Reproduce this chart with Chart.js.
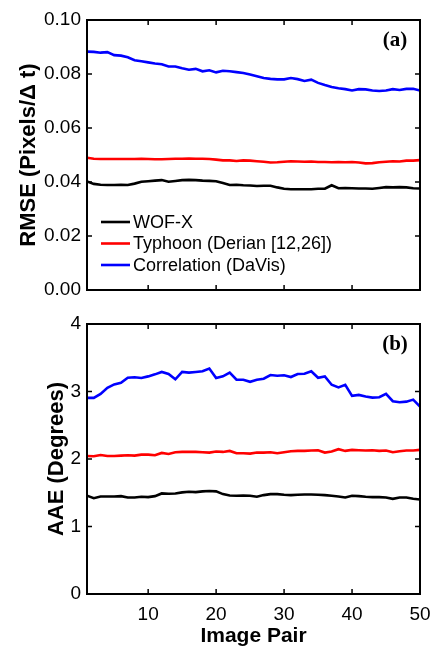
<!DOCTYPE html>
<html>
<head>
<meta charset="utf-8">
<script src="https://cdn.jsdelivr.net/npm/chart.js@4.4.0/dist/chart.umd.min.js"></script>
<style>
  body { margin: 0; background: #fff; }
  #wrap { position: relative; width: 433px; height: 649px; }
  #top { position: absolute; left: 0; top: 0; }
  #bottom { position: absolute; left: 0; top: 300px; }
</style>
</head>
<body>
<div id="wrap">
  <canvas id="top" width="433" height="300"></canvas>
  <canvas id="bottom" width="433" height="349"></canvas>
</div>
<script>
const imagePair = [1,2,3,4,5,6,7,8,9,10,11,12,13,14,15,16,17,18,19,20,21,22,23,24,25,
  26,27,28,29,30,31,32,33,34,35,36,37,38,39,40,41,42,43,44,45,46,47,48,49,50]
const xTicks = [10, 20, 30, 40, 50]
const seriesNames = ['WOF-X', 'Typhoon (Derian [12,26])', 'Correlation (DaVis)']

// panel (a) RMSE
const rmseWof = [0.0402,0.0393,0.0390,0.0389,0.0389,0.0390,0.0389,0.0394,0.0401,0.0403,
  0.0405,0.0407,0.0401,0.0404,0.0407,0.0408,0.0407,0.0405,0.0404,0.0403,
  0.0396,0.0389,0.0390,0.0388,0.0387,0.0385,0.0386,0.0386,0.0380,0.0375,
  0.0373,0.0373,0.0373,0.0373,0.0375,0.0375,0.0388,0.0377,0.0378,0.0377,
  0.0376,0.0376,0.0375,0.0378,0.0381,0.0380,0.0381,0.0380,0.0377,0.0376]
const rmseTyphoon = [0.0490,0.0486,0.0485,0.0485,0.0485,0.0485,0.0485,0.0485,0.0486,0.0485,
  0.0484,0.0484,0.0485,0.0486,0.0486,0.0487,0.0486,0.0486,0.0485,0.0483,
  0.0480,0.0480,0.0478,0.0480,0.0479,0.0477,0.0475,0.0472,0.0473,0.0475,
  0.0477,0.0476,0.0475,0.0476,0.0474,0.0474,0.0473,0.0474,0.0473,0.0474,
  0.0472,0.0469,0.0470,0.0473,0.0475,0.0477,0.0476,0.0479,0.0479,0.0481]
const rmseDavis = [0.0883,0.0882,0.0879,0.0881,0.0870,0.0868,0.0862,0.0851,0.0847,0.0843,
  0.0839,0.0836,0.0828,0.0828,0.0821,0.0816,0.0819,0.0810,0.0814,0.0806,
  0.0812,0.0810,0.0807,0.0804,0.0798,0.0792,0.0785,0.0782,0.0780,0.0780,
  0.0785,0.0781,0.0774,0.0779,0.0767,0.0759,0.0752,0.0747,0.0744,0.0739,
  0.0744,0.0743,0.0739,0.0737,0.0739,0.0744,0.0741,0.0745,0.0745,0.0739]
const rmseTicks = [0, 0.02, 0.04, 0.06, 0.08, 0.10]

// panel (b) AAE
const aaeWof = [1.456,1.42,1.445,1.445,1.445,1.45,1.43,1.43,1.44,1.435,
  1.45,1.49,1.485,1.49,1.505,1.515,1.51,1.52,1.525,1.52,
  1.48,1.46,1.455,1.46,1.455,1.44,1.465,1.48,1.48,1.47,
  1.465,1.47,1.475,1.475,1.47,1.465,1.455,1.445,1.43,1.455,
  1.45,1.44,1.435,1.435,1.43,1.41,1.43,1.43,1.41,1.40]
const aaeTyphoon = [2.045,2.04,2.06,2.045,2.045,2.05,2.055,2.05,2.065,2.065,
  2.055,2.09,2.075,2.10,2.105,2.105,2.105,2.10,2.095,2.11,
  2.105,2.12,2.085,2.085,2.08,2.095,2.095,2.10,2.085,2.10,
  2.115,2.12,2.12,2.125,2.13,2.095,2.11,2.145,2.12,2.135,
  2.13,2.125,2.13,2.12,2.125,2.10,2.115,2.125,2.125,2.135]
const aaeDavis = [2.905,2.905,2.965,3.055,3.105,3.13,3.204,3.21,3.20,3.224,
  3.254,3.29,3.26,3.18,3.29,3.28,3.29,3.30,3.34,3.20,
  3.224,3.28,3.174,3.174,3.144,3.174,3.19,3.244,3.234,3.24,
  3.214,3.26,3.264,3.30,3.204,3.224,3.10,3.06,3.10,2.935,
  2.95,2.925,2.91,2.915,2.965,2.856,2.84,2.85,2.88,2.776]
const aaeTicks = [0, 1, 2, 3, 4]

const colors = ['#000000', '#ff0000', '#0000ff']
const sans = "'Liberation Sans', Arial, sans-serif"

const toPoints = (vals) => imagePair.map((p, i) => ({ x: p, y: vals[i] }))

const makeSets = (lists) => lists.map((vals, i) => ({
  label: seriesNames[i],
  data: toPoints(vals),
  borderColor: colors[i],
  borderWidth: 2.6,
  pointRadius: 0,
  tension: 0,
  fill: false
}))

// label overhang would otherwise shrink the plot area
const noPad = (scale) => {
  scale.paddingLeft = 0
  scale.paddingRight = 0
  scale.paddingTop = 0
  scale.paddingBottom = 0
}

// frame with inward ticks on all four sides
const framePlugin = {
  id: 'frame',
  afterDatasetsDraw(chart, args, opts) {
    const { ctx, chartArea: a, scales } = chart
    ctx.save()
    ctx.strokeStyle = '#000'
    ctx.lineWidth = 2
    ctx.strokeRect(a.left, a.top, a.right - a.left, a.bottom - a.top)
    ctx.lineWidth = 1.5
    ctx.beginPath()
    xTicks.forEach(v => {
      const x = scales.x.getPixelForValue(v)
      ctx.moveTo(x, a.bottom); ctx.lineTo(x, a.bottom - 5)
      ctx.moveTo(x, a.top); ctx.lineTo(x, a.top + 5)
    })
    opts.yTicks.forEach(v => {
      const y = scales.y.getPixelForValue(v)
      ctx.moveTo(a.left, y); ctx.lineTo(a.left + 5, y)
      ctx.moveTo(a.right, y); ctx.lineTo(a.right - 5, y)
    })
    ctx.stroke()
    // panel letter
    ctx.fillStyle = '#000'
    ctx.font = "bold 21px 'Liberation Serif', 'Times New Roman', serif"
    ctx.textAlign = 'center'
    ctx.textBaseline = 'middle'
    ctx.fillText(opts.letter, a.right - 25, a.top + 21)
    // legend
    if (opts.legend) {
      ctx.font = '18px ' + sans
      ctx.textAlign = 'left'
      ctx.lineWidth = 2.6
      chart.data.datasets.forEach((ds, i) => {
        const y = a.top + 202 + i * 21.5
        ctx.strokeStyle = ds.borderColor
        ctx.beginPath()
        ctx.moveTo(a.left + 14, y); ctx.lineTo(a.left + 43, y)
        ctx.stroke()
        ctx.fillText(ds.label, a.left + 46, y + 1)
      })
    }
    ctx.restore()
  }
}

const makeOptions = (cfg) => ({
  responsive: false,
  animation: false,
  layout: { padding: cfg.padding },
  plugins: {
    legend: { display: false },
    tooltip: { enabled: false },
    frame: { yTicks: cfg.yTicks, letter: cfg.letter, legend: cfg.legend }
  },
  scales: {
    x: {
      type: 'linear',
      min: 1,
      max: 50,
      grid: { display: false, drawTicks: false },
      border: { display: false },
      afterBuildTicks: (scale) => { scale.ticks = xTicks.map(v => ({ value: v })) },
      afterFit: (scale) => { scale.height = cfg.xHeight; noPad(scale) },
      ticks: {
        display: cfg.showX,
        padding: 9,
        color: '#000',
        font: { family: sans, size: 19 }
      },
      title: {
        display: cfg.showX,
        text: 'Image Pair',
        color: '#000',
        padding: { top: 0, bottom: 0 },
        font: { family: sans, size: 21, weight: 'bold' }
      }
    },
    y: {
      min: cfg.yTicks[0],
      max: cfg.yTicks[cfg.yTicks.length - 1],
      grid: { display: false, drawTicks: false },
      border: { display: false },
      afterBuildTicks: (scale) => { scale.ticks = cfg.yTicks.map(v => ({ value: v })) },
      afterFit: (scale) => { scale.width = 87; noPad(scale) },
      ticks: {
        padding: 6,
        color: '#000',
        font: { family: sans, size: 19 },
        callback: cfg.tickFmt
      },
      title: {
        display: true,
        text: cfg.yTitle,
        color: '#000',
        padding: { top: cfg.titlePad, bottom: 0 },
        font: { family: sans, size: 22, weight: 'bold' }
      }
    }
  }
})

new Chart(document.getElementById('top'), {
  type: 'line',
  data: { datasets: makeSets([rmseWof, rmseTyphoon, rmseDavis]) },
  options: makeOptions({
    padding: { top: 20, right: 13, bottom: 10, left: 0 },
    yTicks: rmseTicks,
    yTitle: 'RMSE (Pixels/\u0394 t)',
    titlePad: 16,
    tickFmt: (v) => Number(v).toFixed(2),
    letter: '(a)',
    legend: true,
    showX: false,
    xHeight: 0
  }),
  plugins: [framePlugin]
})

new Chart(document.getElementById('bottom'), {
  type: 'line',
  data: { datasets: makeSets([aaeWof, aaeTyphoon, aaeDavis]) },
  options: makeOptions({
    padding: { top: 24, right: 13, bottom: 0, left: 0 },
    yTicks: aaeTicks,
    yTitle: 'AAE (Degrees)',
    titlePad: 44,
    tickFmt: (v) => String(v),
    letter: '(b)',
    legend: false,
    showX: true,
    xHeight: 55
  }),
  plugins: [framePlugin]
})
</script>
</body>
</html>
